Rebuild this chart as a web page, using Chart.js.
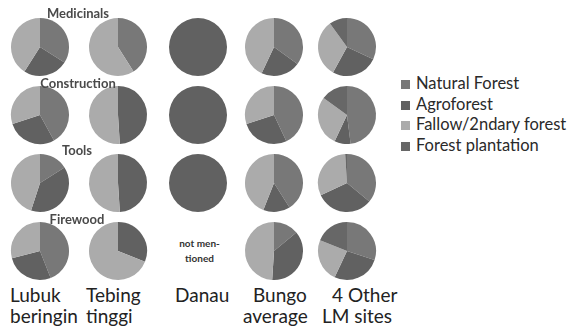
<!DOCTYPE html>
<html>
<head>
<meta charset="utf-8">
<script src="https://cdn.jsdelivr.net/npm/chart.js@4/dist/chart.umd.min.js"></script>
<style>
  body { margin: 0; background: #fff; }
  #wrap { position: relative; width: 574px; height: 326px; overflow: hidden; font-family: Lato, "Open Sans", sans-serif; }
  canvas.pie { position: absolute; }
  .use { position: absolute; font-size: 13px; font-weight: bold; color: #4a4a4a; transform: translate(-50%, -50%); white-space: nowrap; }
  .site { position: absolute; font-size: 19px; color: #222; white-space: nowrap; line-height: 1; }
  .nm { position: absolute; font-size: 10px; font-weight: bold; color: #333; text-align: center; transform: translate(-50%, -50%); line-height: 15px; }
  #legend { position: absolute; left: 401px; top: 73px; font-size: 16.5px; color: #2a2a2a; }
  #legend div { height: 20.7px; line-height: 20.7px; white-space: nowrap; }
  #legend span.sw { display: inline-block; width: 9px; height: 9px; margin-right: 6px; vertical-align: 0px; }
</style>
</head>
<body>
<div id="wrap"></div>
<script>
const categories = ["Natural Forest", "Agroforest", "Fallow/2ndary forest", "Forest plantation"];
const colors = ["#787878", "#616161", "#ababab", "#676767"];
const sites = [["Lubuk", "beringin"], ["Tebing", "tinggi"], ["Danau"], ["Bungo", "average"], ["4 Other", "LM sites"]];
const uses = ["Medicinals", "Construction", "Tools", "Firewood"];

// shares per site: [natural, agro, fallow, plantation]; null = not mentioned
const medicinals = [[34, 25, 41, 0], [41, 0, 59, 0], [0, 100, 0, 0], [35, 22, 43, 0], [32, 26, 32, 10]];
const construction = [[42, 28, 30, 0], [0, 49, 51, 0], [0, 100, 0, 0], [43, 27, 30, 0], [48, 9, 28, 15]];
const tools = [[16, 39, 45, 0], [0, 49, 51, 0], [0, 100, 0, 0], [41, 15, 44, 0], [36, 32, 31, 1]];
const firewood = [[44, 27, 29, 0], [0, 31, 69, 0], null, [14, 37, 49, 0], [30, 27, 24, 19]];
const rows = [medicinals, construction, tools, firewood];

const colX = [39.5, 118, 197.5, 274, 346.5];
const rowY = [46.5, 115, 182.5, 250.5];
const useLabelPos = [[78, 13], [78, 83], [77, 150], [77, 219]];
const siteLinePos = [[[10, 285], [10, 306]], [[86, 285], [86, 306]], [[175, 285]], [[253, 285], [243, 306]], [[332, 285], [322, 306]]];

const wrap = document.getElementById("wrap");
const SIZE = 62;

rows.forEach((row, r) => {
  row.forEach((vals, c) => {
    if (!vals) return;
    const cv = document.createElement("canvas");
    cv.className = "pie";
    cv.width = SIZE;
    cv.height = SIZE;
    cv.style.left = (colX[c] - SIZE / 2) + "px";
    cv.style.top = (rowY[r] - SIZE / 2) + "px";
    wrap.appendChild(cv);
    new Chart(cv.getContext("2d"), {
      type: "pie",
      data: {
        labels: categories,
        datasets: [{
          data: vals,
          backgroundColor: colors,
          borderWidth: 0,
        }],
      },
      options: {
        responsive: false,
        animation: false,
        layout: { padding: 2 },
        plugins: { legend: { display: false }, tooltip: { enabled: false } },
      },
    });
  });
});

// "not mentioned" cell
rows.forEach((row, r) => {
  row.forEach((vals, c) => {
    if (vals) return;
    const d = document.createElement("div");
    d.className = "nm";
    d.innerHTML = "not men-<br>tioned";
    d.style.left = (colX[c] + 2) + "px";
    d.style.top = (rowY[r]) + "px";
    wrap.appendChild(d);
  });
});

uses.forEach((u, i) => {
  const d = document.createElement("div");
  d.className = "use";
  d.textContent = u;
  d.style.left = useLabelPos[i][0] + "px";
  d.style.top = useLabelPos[i][1] + "px";
  wrap.appendChild(d);
});

sites.forEach((lines, i) => {
  lines.forEach((t, j) => {
    const d = document.createElement("div");
    d.className = "site";
    d.textContent = t;
    d.style.left = siteLinePos[i][j][0] + "px";
    d.style.top = siteLinePos[i][j][1] + "px";
    wrap.appendChild(d);
  });
});

const legend = document.createElement("div");
legend.id = "legend";
categories.forEach((cat, i) => {
  const row = document.createElement("div");
  const sw = document.createElement("span");
  sw.className = "sw";
  sw.style.background = colors[i];
  row.appendChild(sw);
  row.appendChild(document.createTextNode(cat));
  legend.appendChild(row);
});
wrap.appendChild(legend);
</script>
</body>
</html>
